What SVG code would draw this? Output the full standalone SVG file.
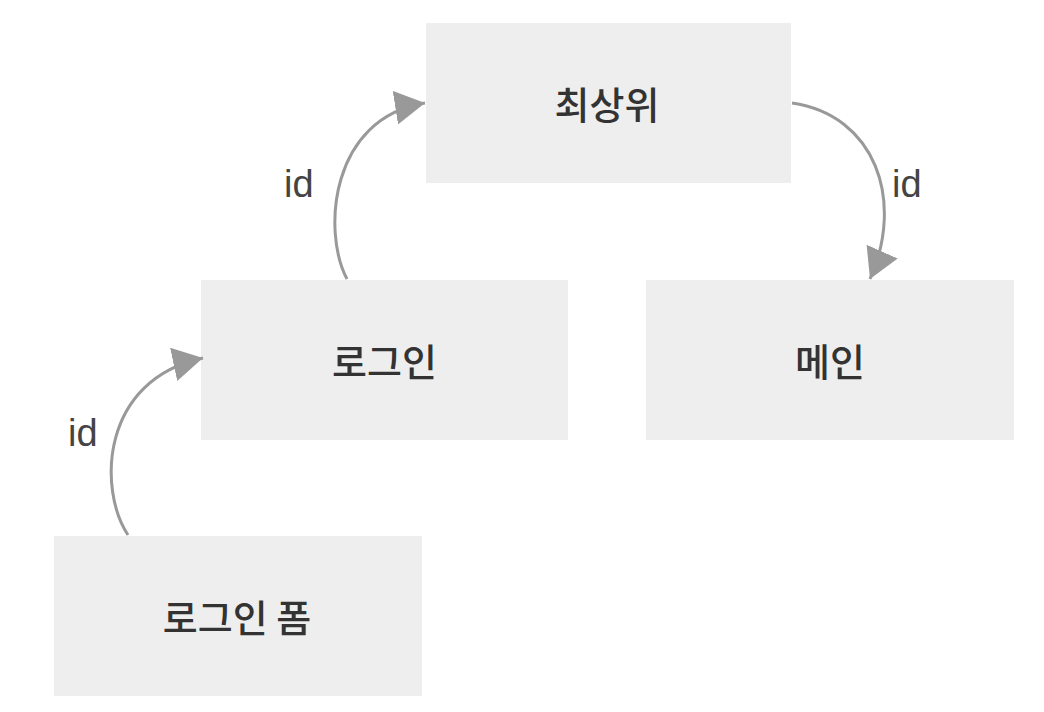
<svg xmlns="http://www.w3.org/2000/svg" width="1044" height="712" viewBox="0 0 1044 712">
<style>
.box{fill:#eeeeee}
.lbl{font-family:"Noto Sans CJK KR","Noto Sans",sans-serif;font-size:38px;font-weight:500;fill:#333;text-anchor:middle;dominant-baseline:central}
.edge{fill:none;stroke:#999;stroke-width:3}
.elbl{font-family:"Liberation Sans",Arial,sans-serif;font-size:38px;fill:#444}
</style>
<defs>
<marker id="arr" markerUnits="userSpaceOnUse" markerWidth="32" markerHeight="34" refX="30" refY="17" orient="auto">
<path d="M0,0 L30,17 L0,34 z" fill="#999"/>
</marker>
</defs>
<rect width="1044" height="712" fill="#ffffff"/>
<g id="top">
<rect class="box" x="426" y="23" width="365" height="160"/>
<text class="lbl" x="607" y="102">최상위</text>
</g>
<g id="login">
<rect class="box" x="201" y="280" width="367" height="160"/>
<text class="lbl" x="384.5" y="359">로그인</text>
</g>
<g id="main">
<rect class="box" x="646" y="280" width="368" height="160"/>
<text class="lbl" x="830" y="359">메인</text>
</g>
<g id="loginform">
<rect class="box" x="54" y="536" width="368" height="160"/>
<text class="lbl" x="237" y="615">로그인 폼</text>
</g>
<g id="connectors">
<path class="edge" d="M128,535 C98,490 100,380 203,358" marker-end="url(#arr)"/>
<text class="elbl" x="68" y="446">id</text>
<path class="edge" d="M347,279 C322,232 330,118 425,103" marker-end="url(#arr)"/>
<text class="elbl" x="284" y="197">id</text>
<path class="edge" d="M792,103 C875,115 905,200 870,279" marker-end="url(#arr)"/>
<text class="elbl" x="892" y="197">id</text>
</g>
</svg>
